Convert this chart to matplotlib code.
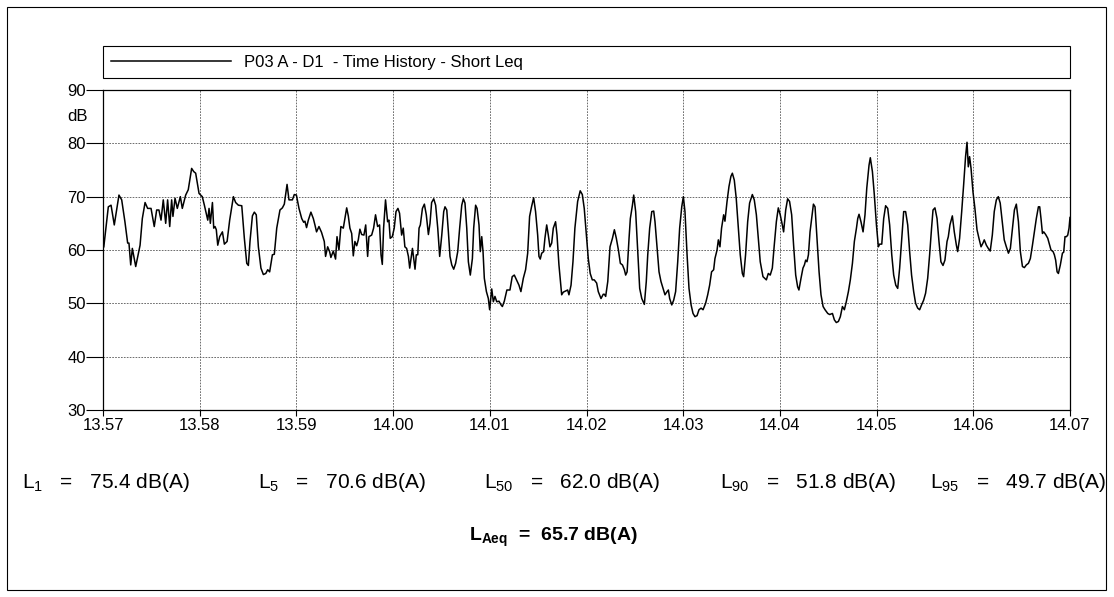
import matplotlib
matplotlib.use("Agg")
import matplotlib.pyplot as plt
from matplotlib.patches import Rectangle

plt.rcParams["font.family"] = ["Liberation Sans", "DejaVu Sans"]
plt.rcParams["mathtext.fontset"] = "custom"
plt.rcParams["mathtext.rm"] = "Liberation Sans"
plt.rcParams["mathtext.it"] = "Liberation Sans"
plt.rcParams["mathtext.bf"] = "Liberation Sans:bold"

# short Leq time history, seconds after 13:57:00
t_sec = [
    0.5, 3.3, 5.0, 7.0, 9.9, 11.6, 13.6, 15.3, 16.1, 17.2, 18.2, 20.3, 23.0, 24.4, 26.1, 27.7,
    29.8, 31.8, 33.3, 34.7, 36.0, 37.4, 38.9, 40.1, 41.4, 42.6, 43.4, 44.7, 46.1, 48.0, 49.2,
    51.3, 52.9, 55.0, 56.3, 57.5, 59.6, 61.6,
    62.9, 65.0, 65.8, 66.6, 67.9, 68.7, 69.5, 70.3, 71.2, 72.4, 74.1, 75.3, 77.0, 78.6, 80.9,
    82.3, 84.0, 86.1, 87.7, 89.2, 90.2, 91.2, 92.7, 93.9, 95.1, 96.4, 98.0, 99.5, 101.0, 102.2,
    103.4, 105.1, 106.3, 107.8, 109.8, 111.3, 112.5, 114.2, 115.4, 117.5, 118.7, 120.0, 121.6,
    123.3, 124.5,
    125.3, 126.3, 127.4, 129.0, 130.5, 131.5, 132.5, 134.0, 135.6, 137.3, 138.1, 139.4, 140.6,
    141.4, 142.9, 144.3, 145.2, 146.4, 147.6, 149.1, 150.1, 151.2, 152.2, 153.2, 154.3, 155.3,
    156.3, 157.4, 158.4, 159.4, 160.5, 161.9, 163.0, 164.2, 165.0, 166.7, 167.9, 169.1, 170.4,
    171.6, 172.5, 173.3, 174.1, 175.3, 176.6, 177.4, 178.2, 179.5, 180.7, 181.8, 183.0, 184.0,
    185.3, 186.3, 187.3,
    188.4, 189.5, 190.3, 191.1, 192.0, 192.8, 193.6, 194.4, 195.3, 196.1, 196.9, 198.2, 199.4,
    200.6, 201.9, 202.9, 203.9, 205.2, 206.4, 207.7, 208.9, 210.2, 211.4, 212.2, 213.3, 214.3,
    215.3, 216.4, 217.6, 218.8, 220.1, 221.3, 222.6, 223.6, 224.6, 225.7, 226.7, 227.9, 229.2,
    230.0, 231.2, 232.1, 233.3, 234.1, 235.0, 235.8, 236.6, 237.9, 239.1, 239.9, 241.2, 242.2,
    243.2, 244.3, 245.7, 247.0, 247.8, 249.0,
    250.6, 252.5, 253.9, 255.2, 256.6, 258.1, 259.3, 260.8, 262.2, 263.5, 264.7, 265.9, 267.2,
    268.4, 269.7, 270.5, 271.3, 272.2, 273.4, 274.2, 275.3, 276.3, 277.3, 278.4, 279.4, 280.8,
    281.7, 282.9, 284.6, 285.6, 287.0, 288.3, 289.1, 290.4, 291.6, 292.8, 294.5, 296.1, 297.4,
    298.6, 299.9, 301.1, 302.3, 303.6, 304.8, 306.3, 307.3, 309.0, 310.4,
    311.1, 311.9, 313.2, 314.6, 316.1, 317.3, 318.5, 319.8, 321.0, 322.3, 323.5, 324.3, 325.2,
    326.4, 327.2, 328.5, 329.3, 330.5, 331.8, 333.0, 334.3, 335.9, 337.1, 338.0, 339.2, 340.5,
    341.7, 342.5, 343.8, 345.0, 346.2, 347.5, 348.7, 350.0, 350.8, 351.6, 352.9, 354.1, 355.3,
    356.6, 357.8, 359.1, 360.1, 361.1, 362.4, 363.6, 364.9, 366.1, 367.3, 368.6, 369.8, 371.1,
    372.3,
    373.9, 375.2, 376.4, 377.6, 378.9, 379.7, 381.0, 381.8, 382.8, 383.8, 385.1, 385.9, 387.2,
    388.4, 389.6, 390.5, 391.7, 392.9, 394.2, 395.4, 396.7, 397.5, 398.7, 400.0, 401.2, 402.9,
    404.1, 405.4, 406.6, 407.8, 409.5, 411.6, 412.8, 414.0, 415.3, 416.5, 417.8, 419.0, 420.2,
    421.5, 422.3, 423.6, 424.8, 426.0, 427.3, 428.5, 429.8, 431.0, 431.8, 433.1, 434.3,
    435.2, 436.0, 436.8, 437.7, 438.7, 439.7, 440.8, 441.8, 443.0, 444.3, 445.5, 446.8, 448.0,
    449.7, 450.9, 452.6, 453.8, 455.0, 456.3, 457.5, 458.8, 460.0, 461.2, 462.5, 463.7, 465.0,
    466.2, 467.5, 468.3, 469.1, 470.3, 471.6, 472.8, 473.9, 475.3, 476.1, 477.4, 478.6, 479.9,
    481.1, 481.9, 483.2, 484.4, 485.6, 486.9, 488.1, 489.4, 490.6, 491.9, 493.1, 494.3, 495.6,
    496.8,
    498.0, 499.3, 500.5, 501.7, 503.0, 504.2, 505.5, 506.7, 507.9, 509.2, 510.4, 511.7, 512.9,
    514.1, 515.0, 516.2, 517.5, 518.7, 519.9, 521.2, 522.4, 523.7, 524.5, 525.5, 527.0, 528.2,
    529.5, 530.3, 531.5, 532.8, 534.0, 535.2, 536.1, 536.9, 537.7, 538.6, 539.8, 541.0, 542.3,
    543.5, 544.8, 546.0, 546.8, 548.1, 549.3, 550.5, 551.8, 553.0, 554.3, 555.5, 556.7, 558.0,
    559.2,
    560.5, 561.8, 563.0, 564.3, 565.5, 566.7, 568.0, 569.2, 570.5, 571.7, 572.9, 574.2, 575.4,
    576.7, 577.9, 579.1, 580.4, 581.2, 582.0, 582.9, 583.7, 584.9, 586.2, 587.4, 588.2, 589.5,
    590.3, 591.1, 592.0, 592.8, 594.0, 595.3, 596.1, 596.9, 597.8, 598.6, 599.4, 600.0,
]
leq_db = [
    60.6, 68.1, 68.4, 64.7, 70.3, 69.4, 65.3, 61.3, 61.3, 57.2, 60.3, 56.9, 60.9, 65.9, 68.9, 67.8,
    67.8, 64.4, 67.5, 67.5, 65.6, 69.4, 65.0, 69.4, 64.4, 69.4, 66.3, 69.7, 67.8, 70.0, 67.8,
    70.3, 71.3, 75.3, 74.7, 74.4, 70.6, 70.0,
    68.4, 65.6, 67.8, 65.0, 68.9, 64.1, 64.4, 63.8, 60.9, 62.5, 63.4, 61.1, 61.6, 65.6, 70.0,
    68.9, 68.4, 68.3, 62.2, 57.5, 57.1, 61.6, 66.4, 67.1, 66.6, 60.6, 56.6, 55.4, 55.6, 56.3,
    55.9, 59.1, 59.2, 64.1, 67.5, 67.9, 68.6, 72.3, 69.4, 69.4, 70.4, 70.3, 67.8,
    65.9, 65.2,
    65.4, 64.2, 65.6, 67.1, 65.9, 64.7, 63.4, 64.4, 63.3, 61.6, 58.8, 60.6, 59.7,
    58.6, 59.8, 58.3, 62.5, 60.0, 64.4, 64.1, 65.9, 67.9, 66.4, 64.1, 63.1, 58.9,
    61.6, 60.8, 61.9, 63.9, 62.9, 62.8, 64.7, 58.8, 62.5, 62.8, 64.1, 66.6, 64.4,
    64.7, 59.1, 57.3, 64.1, 69.4, 65.3, 65.6, 62.2, 62.5, 64.1, 67.2, 67.8, 66.9,
    62.8, 64.1, 60.6,
    60.3, 58.8, 56.6, 58.4, 60.3, 58.4, 56.4, 59.1, 59.1, 64.1, 64.7, 67.8, 68.6,
    66.6, 62.9, 65.0, 68.9, 69.6, 68.4, 64.1, 58.8, 62.8, 67.2, 68.1, 67.5, 63.4,
    58.8, 57.2, 56.4, 57.5, 59.7, 64.1, 68.4, 69.6, 68.8, 64.1, 57.8, 55.3, 58.4,
    64.1, 68.4, 67.8, 64.7, 59.7, 62.5, 59.7, 54.7, 52.2, 50.9, 48.8, 52.7, 50.3,
    51.3, 50.3, 50.4, 49.7, 49.4, 50.4,
    52.5, 52.5, 55.0, 55.3, 54.4, 53.4, 52.2, 54.7, 56.3, 59.4, 66.3, 68.1, 69.8,
    67.2, 62.8, 58.8, 58.3, 59.4, 59.7, 62.2, 64.7, 62.8, 60.6, 61.3, 64.1, 65.3,
    62.8, 57.2, 51.6, 52.1, 52.3, 52.5, 51.6, 53.4, 57.8, 64.1, 69.1, 71.1, 70.4,
    67.8, 62.8, 58.4, 55.6, 54.4, 54.4, 53.8, 52.2, 50.9, 51.7,
    51.7, 51.3, 54.1, 60.6, 62.2, 63.8, 62.2, 60.0, 57.5, 57.2, 56.3, 55.3, 55.9,
    62.2, 65.9, 68.4, 70.3, 67.2, 59.7, 52.8, 50.9, 49.8, 54.1, 59.1, 64.1, 67.2,
    67.3, 65.3, 60.3, 55.9, 54.1, 52.8, 51.6, 52.2, 52.5, 50.9, 49.7, 50.6, 52.2,
    57.8, 64.1, 68.1, 70.0, 67.2, 59.1, 52.8, 49.7, 48.1, 47.5, 47.7, 48.8, 49.1,
    48.8,
    50.0, 51.6, 53.4, 55.9, 56.3, 58.4, 60.0, 61.9, 60.6, 64.1, 66.6, 65.4, 69.1,
    71.9, 73.8, 74.4, 73.1, 69.7, 64.1, 59.1, 55.6, 55.0, 59.1, 65.3, 68.8, 70.4,
    69.4, 66.6, 62.2, 57.8, 55.0, 54.4, 55.6, 55.3, 56.6, 60.9, 65.3, 67.9, 66.6,
    64.7, 63.4, 67.5, 69.6, 69.1, 66.6, 60.9, 55.3, 53.1, 52.5, 54.7, 56.6,
    57.2, 58.1, 57.8, 59.1, 63.4, 65.9, 68.6, 68.1, 62.2, 55.9, 51.6, 49.4, 48.8,
    48.1, 47.9, 48.1, 46.9, 46.4, 46.6, 47.5, 49.4, 48.8, 50.3, 52.2, 54.4, 57.5,
    61.6, 64.1, 65.9, 66.7, 65.3, 63.4, 66.6, 71.6, 75.9, 77.3, 74.7, 70.3, 64.7,
    60.6, 61.1, 61.1, 65.9, 68.3, 67.8, 64.7, 59.1, 55.3, 53.4, 52.8, 56.6, 62.2,
    67.2,
    67.2, 64.7, 59.7, 55.3, 52.2, 50.0, 49.1, 48.8, 49.7, 50.6, 51.9, 54.7, 59.1,
    64.1, 67.5, 67.9, 65.9, 61.6, 57.8, 57.1, 58.1, 61.6, 62.5, 64.7, 66.4, 63.4,
    60.9, 59.7, 62.2, 67.2, 72.2, 77.5, 80.2, 75.6, 77.5, 75.3, 70.9, 67.8, 63.8,
    62.2, 60.6, 61.3, 61.9, 60.9, 60.3, 59.8, 62.8, 67.2, 69.4, 70.0, 68.8, 65.3,
    61.9,
    60.6, 59.4, 60.3, 64.1, 67.5, 68.6, 65.3, 59.7, 56.9, 56.7, 57.2, 57.5, 58.4,
    60.9, 63.4, 65.9, 68.1, 68.1, 65.9, 63.1, 63.4, 62.9, 62.2, 60.9, 60.0, 59.7,
    59.1, 58.1, 55.9, 55.6, 57.2, 59.4, 59.6, 62.5, 62.5, 62.8, 64.1, 66.1,
]

tick_sec = [0, 60, 120, 180, 240, 300, 360, 420, 480, 540, 600]
tick_labels = ["13.57", "13.58", "13.59", "14.00", "14.01", "14.02",
               "14.03", "14.04", "14.05", "14.06", "14.07"]
db_ticks = [30, 40, 50, 60, 70, 80, 90]

stat_names = ["1", "5", "50", "90", "95"]
stat_values = [75.4, 70.6, 62.0, 51.8, 49.7]
laeq = 65.7

W, H = 1114, 597
fig = plt.figure(figsize=(W / 100, H / 100), dpi=100)
ax = fig.add_axes([103 / W, 1 - 410 / H, (1070 - 103) / W, 320 / H])

ax.plot(t_sec, leq_db, color="black", lw=1.1,
        label="P03 A - D1  - Time History - Short Leq")
ax.set_xlim(0, 600)
ax.set_ylim(30, 90)
ax.set_xticks(tick_sec)
ax.set_xticklabels(tick_labels)
ax.set_yticks(db_ticks)
ax.tick_params(axis="both", labelsize=12, color="black", width=0.8)
ax.tick_params(axis="y", length=12, pad=0.5)
ax.tick_params(axis="x", length=4.5, pad=1.5)
ax.grid(True, color="#555555", lw=0.6, ls=(0, (2, 1.5)))
for s in ax.spines.values():
    s.set_linewidth(0.9)
ax.text(-0.0155, 85, "dB", transform=ax.get_yaxis_transform(),
        ha="right", va="center", fontsize=12)

leg = ax.legend(loc="lower left", bbox_to_anchor=(0, 1.0375, 1, 0.0965),
                mode="expand", borderaxespad=0, fancybox=False, framealpha=1,
                edgecolor="black", fontsize=12, handlelength=7.2,
                handletextpad=0.75, borderpad=0.5)
leg.get_frame().set_linewidth(0.8)

# page frame
fig.patches.append(Rectangle((7 / W, 1 - 590 / H), (1106 - 7) / W, (590 - 7) / H,
                             transform=fig.transFigure, fill=False,
                             edgecolor="black", lw=0.8))

stat_x = [22, 258, 484, 720, 930]
for x, name, val in zip(stat_x, stat_names, stat_values):
    fig.text(x / W, 1 - 482 / H, f"L$_{{{name}}}$   =   {val:.1f} dB(A)",
             ha="left", va="center", fontsize=15)
fig.text(553 / W, 1 - 537 / H, r"L$_{\mathbf{Aeq}}$  =  " + f"{laeq:.1f} dB(A)",
         ha="center", va="center", fontsize=14, fontweight="bold")

fig.savefig("out.png", dpi=100)
